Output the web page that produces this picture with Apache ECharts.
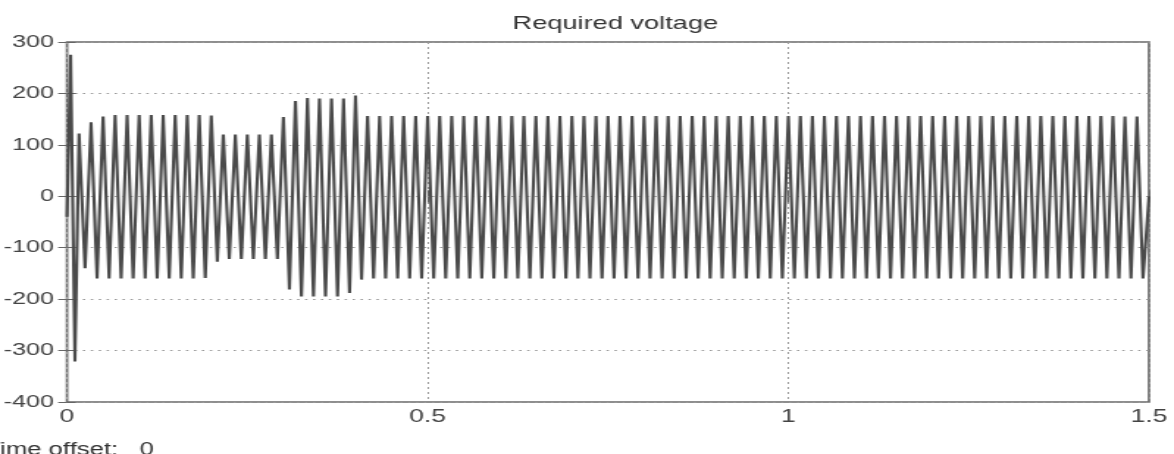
<!DOCTYPE html>
<html>
<head>
<meta charset="utf-8">
<title>Required voltage</title>
<script src="https://cdn.jsdelivr.net/npm/echarts@6/dist/echarts.min.js"></script>
<style>
  html, body { margin: 0; padding: 0; background: #fff; overflow: hidden; }
  /* the scope picture is a stretched screenshot, so draw narrow and stretch it the same way */
  #main { width: 799px; height: 454px; transform-origin: 0 0; transform: scaleX(1.4693); }
</style>
</head>
<body>
<div id="main"></div>
<script>
// scope trace, values
// one positive peak and one negative trough per cycle
const freqHz = 60
const endTime = 1.5
const endValue = 0

// start-up spike before the first full cycle
const leadTimes = [0, 0.005, 0.011]
const leadValues = [-40, 275, -321]

// positive peaks, cycle 1..89
const posPeaks = [
  122, 144, 155, 158, 158, 158, 158, 158, 158, 158,
  158, 157, 120, 120, 120, 120, 120, 154, 185, 191,
  190, 190, 190, 196, 156, 156, 156, 156, 156, 156,
  156, 156, 156, 156, 156, 156, 156, 156, 156, 156,
  156, 156, 156, 156, 156, 156, 156, 156, 156, 156,
  156, 156, 156, 156, 156, 156, 156, 156, 156, 156,
  156, 156, 156, 156, 156, 156, 156, 156, 156, 156,
  156, 156, 156, 156, 156, 156, 156, 156, 156, 156,
  156, 156, 156, 156, 156, 156, 156, 155, 155
]

// negative troughs, half a cycle after each peak
const negPeaks = [
  -140, -160, -160, -160, -160, -160, -160, -160, -160, -160,
  -159, -127, -122, -122, -122, -122, -122, -181, -195, -195,
  -195, -195, -188, -162, -160, -160, -160, -160, -160, -160,
  -160, -160, -160, -160, -160, -160, -160, -160, -160, -160,
  -160, -160, -160, -160, -160, -160, -160, -160, -160, -160,
  -160, -160, -160, -160, -160, -160, -160, -160, -160, -160,
  -160, -160, -160, -160, -160, -160, -160, -160, -160, -160,
  -160, -160, -160, -160, -160, -160, -160, -160, -160, -160,
  -160, -160, -160, -160, -160, -160, -160, -160, -160
]

// axes
const xMin = 0, xMax = 1.5, xStep = 0.5
const yMin = -400, yMax = 300, yStep = 100

function buildTrace() {
  let pts = []
  leadTimes.forEach((t, i) => {
    pts.push([t, leadValues[i]])
  })
  for (let k = 0; k < posPeaks.length; k++) {
    pts.push([(k + 1) / freqHz, posPeaks[k]])
    pts.push([(k + 1.5) / freqHz, negPeaks[k]])
  }
  pts.push([endTime, endValue])
  return pts
}

const font = '"Liberation Sans", Arial, sans-serif'
const tickStyle = { color: '#666', width: 1 }
const gridLeft = 45.6, gridRight = 17

let chart = echarts.init(document.getElementById('main'), null, { renderer: 'canvas' })

chart.setOption({
  animation: false,
  backgroundColor: '#fff',
  title: {
    text: 'Required voltage',
    // centred over the plot box, not the page
    left: (gridLeft + 799 - gridRight) / 2,
    textAlign: 'center',
    top: 9,
    textStyle: { fontFamily: font, fontSize: 18.5, fontWeight: 'normal', color: '#333' }
  },
  grid: {
    left: gridLeft, right: gridRight, top: 42, bottom: 52,
    outerBoundsMode: 'none', // keep the box where it is, labels may sit outside
    containLabel: false,
    show: true,
    borderColor: '#6a6a6a',
    borderWidth: 1.7,
    backgroundColor: '#fff'
  },
  xAxis: [{
    type: 'value',
    position: 'bottom',
    min: xMin, max: xMax, interval: xStep,
    axisLine: { show: false },
    axisTick: { show: true, inside: true, length: 6, lineStyle: tickStyle },
    axisLabel: { color: '#444', fontFamily: font, fontSize: 18, margin: 6 },
    splitLine: { show: true, lineStyle: { color: '#9a9a9a', width: 1, type: [2, 3] } }
  }, {
    type: 'value',
    position: 'top',
    min: xMin, max: xMax, interval: xStep,
    axisLine: { show: false },
    axisTick: { show: true, inside: true, length: 6, lineStyle: tickStyle },
    axisLabel: { show: false },
    splitLine: { show: false }
  }],
  yAxis: [{
    type: 'value',
    position: 'left',
    min: yMin, max: yMax, interval: yStep,
    axisLine: { show: false },
    axisTick: { show: true, inside: true, length: 6, lineStyle: tickStyle },
    axisLabel: { color: '#444', fontFamily: font, fontSize: 17, margin: 9 },
    splitLine: { show: true, lineStyle: { color: '#9a9a9a', width: 1, type: [1.6, 3.8] } }
  }, {
    type: 'value',
    position: 'right',
    min: yMin, max: yMax, interval: yStep,
    axisLine: { show: false },
    axisTick: { show: true, inside: true, length: 6, lineStyle: tickStyle },
    axisLabel: { show: false },
    splitLine: { show: false }
  }],
  graphic: [{
    type: 'text',
    left: -10,
    top: 441,
    style: { text: 'Time offset:   0', fill: '#333', font: '17.5px ' + font }
  }],
  series: [{
    name: 'Required voltage',
    type: 'line',
    xAxisIndex: 0,
    yAxisIndex: 0,
    data: buildTrace(),
    showSymbol: false,
    sampling: null,
    lineStyle: { color: '#4a4a4a', width: 2.1 }
  }]
})
</script>
</body>
</html>
